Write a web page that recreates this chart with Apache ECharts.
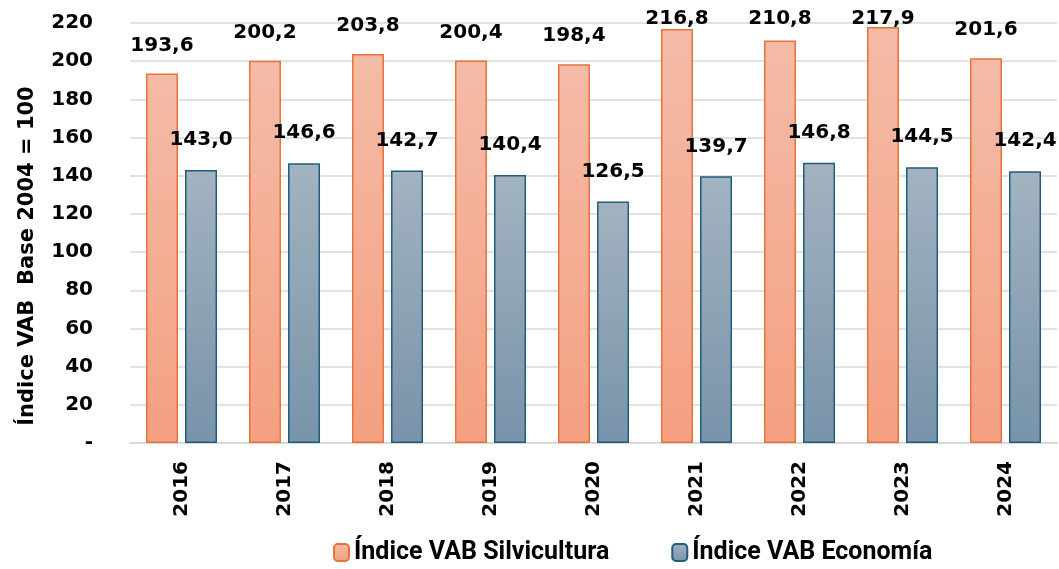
<!DOCTYPE html>
<html><head><meta charset="utf-8">
<script src="https://cdn.jsdelivr.net/npm/echarts@6/dist/echarts.min.js"></script>
<style>html,body{margin:0;padding:0;background:#fff}#c{width:1059px;height:569px}</style>
</head><body><div id="c"></div>
<script>
const years = ['2016','2017','2018','2019','2020','2021','2022','2023','2024'];
const silvicultura = [193.6,200.2,203.8,200.4,198.4,216.8,210.8,217.9,201.6];
const economia = [143.0,146.6,142.7,140.4,126.5,139.7,146.8,144.5,142.4];
const seriesNames = ['Índice VAB Silvicultura','Índice VAB Economía'];
const yTitle = 'Índice VAB  Base 2004 = 100';
const yTicks = {min:0,max:220,interval:20};

const numFont = 'DejaVu Sans';
const fmt = v => v.toFixed(1).replace('.', ',');
const chart = echarts.init(document.getElementById('c'));
const lbl = {fontSize:20,fontWeight:'bold',color:'#000',fontFamily:numFont};
chart.setOption({
  animation:false,
  grid:{left:130,right:2,top:23,bottom:126},
  graphic:[{type:'text',x:28,y:256,rotation:Math.PI/2,
    style:{text:yTitle,fill:'#000',font:'bold 21px "DejaVu Sans"',align:'center',verticalAlign:'middle'}}],
  legend:{
    bottom:-1,left:328,itemWidth:15,itemHeight:17,itemGap:62,
    textStyle:{fontSize:25,fontWeight:'bold',color:'#000',fontFamily:'Roboto'},
    data:seriesNames
  },
  xAxis:{
    type:'category',data:years,
    axisLine:{lineStyle:{color:'#D9D9D9',width:2}},
    axisTick:{show:false},
    axisLabel:Object.assign({rotate:90,margin:18},lbl)
  },
  yAxis:{
    type:'value',min:yTicks.min,max:yTicks.max,interval:yTicks.interval,
    axisLine:{show:false},axisTick:{show:false},
    splitLine:{lineStyle:{color:'#D9D9D9',width:1.5}},
    axisLabel:Object.assign({margin:37,formatter:v=>v===0?'-':String(v)},lbl)
  },
  series:[
    {name:seriesNames[0],type:'bar',data:silvicultura,barWidth:32,barGap:'22%',
     itemStyle:{borderColor:'#E8733A',borderWidth:1.5,
       color:new echarts.graphic.LinearGradient(0,0,0,1,[{offset:0,color:'#F4BBA7'},{offset:1,color:'#F4A081'}])},
     label:Object.assign({show:true,position:'top',distance:18,formatter:p=>fmt(p.value)},lbl),
     labelLayout:function(p){
       const r=p.labelRect;
       return {x:r.x+r.width/2,y:Math.max(r.y,9),align:'center',verticalAlign:'top'};
     }},
    {name:seriesNames[1],type:'bar',data:economia,barWidth:32,
     itemStyle:{borderColor:'#1F5D7E',borderWidth:1.5,
       color:new echarts.graphic.LinearGradient(0,0,0,1,[{offset:0,color:'#A3B3C0'},{offset:1,color:'#7893AA'}])},
     label:Object.assign({show:true,position:'top',distance:20,formatter:p=>fmt(p.value)},lbl)}
  ]
});
</script></body></html>
